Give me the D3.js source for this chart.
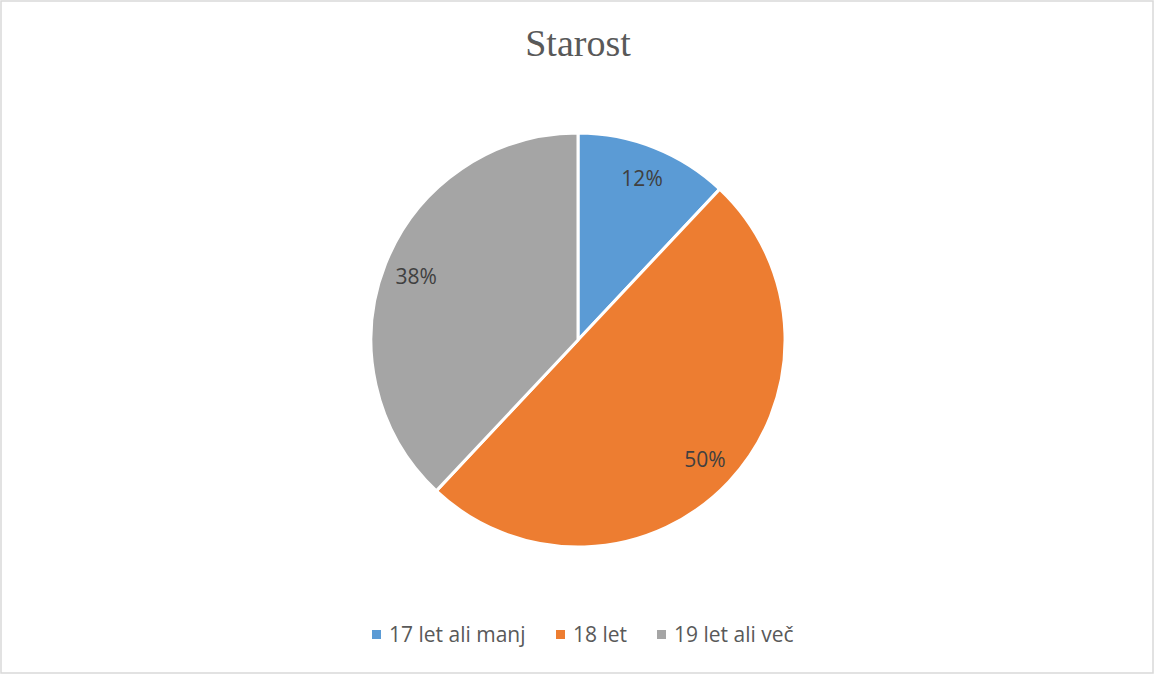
<!DOCTYPE html>
<html>
<head>
<meta charset="utf-8">
<script src="https://cdn.jsdelivr.net/npm/d3@7"></script>
<style>
  body { margin: 0; background: #fff; }
  svg { display: block; }
</style>
</head>
<body>
<svg id="chart" width="1155" height="675"></svg>
<script>
// data
var categories = ['17 let ali manj', '18 let', '19 let ali več'];
var values = [12, 50, 38];
var colors = ['#5b9bd5', '#ed7d31', '#a5a5a5'];

var svg = d3.select('#chart');
var W = 1155, H = 675;

// outer border
svg.append('rect')
  .attr('x', 1).attr('y', 1)
  .attr('width', W - 3).attr('height', H - 3)
  .attr('fill', '#fff')
  .attr('stroke', '#d9d9d9')
  .attr('stroke-width', 1.5);

// title
svg.append('text')
  .attr('x', 578).attr('y', 56)
  .attr('text-anchor', 'middle')
  .attr('font-family', '"Liberation Serif", "Times New Roman", serif')
  .attr('font-size', 38)
  .attr('fill', '#595959')
  .text('Starost');

var cx = 578, cy = 340, r = 207;

var pie = d3.pie().sort(null).value(function(d) { return d; });
var arcs = pie(values);
var arc = d3.arc().innerRadius(0).outerRadius(r);
var labelArc = d3.arc().innerRadius(174).outerRadius(174);

var g = svg.append('g').attr('transform', 'translate(' + cx + ',' + cy + ')');

g.selectAll('path')
  .data(arcs)
  .enter().append('path')
  .attr('d', arc)
  .attr('fill', function(d, i) { return colors[i]; })
  .attr('stroke', '#fff')
  .attr('stroke-width', 3)
  .attr('stroke-linejoin', 'round');

var total = d3.sum(values);
g.selectAll('text.lbl')
  .data(arcs)
  .enter().append('text')
  .attr('class', 'lbl')
  .attr('transform', function(d) { return 'translate(' + labelArc.centroid(d) + ')'; })
  .attr('text-anchor', 'middle')
  .attr('dy', '0.36em')
  .attr('font-family', '"Open Sans", "Noto Sans", sans-serif')
  .attr('font-size', 21)
  .attr('fill', '#404040')
  .text(function(d) { return Math.round(d.data / total * 100) + '%'; });

// legend
var legendX = [372, 556, 657];
var legend = svg.append('g');
categories.forEach(function(c, i) {
  legend.append('rect')
    .attr('x', legendX[i]).attr('y', 630)
    .attr('width', 9).attr('height', 9)
    .attr('fill', colors[i]);
  legend.append('text')
    .attr('x', legendX[i] + 17).attr('y', 642)
    .attr('font-family', '"Open Sans", "Noto Sans", sans-serif')
    .attr('font-size', 21)
    .attr('fill', '#595959')
    .text(c);
});
</script>
</body>
</html>
